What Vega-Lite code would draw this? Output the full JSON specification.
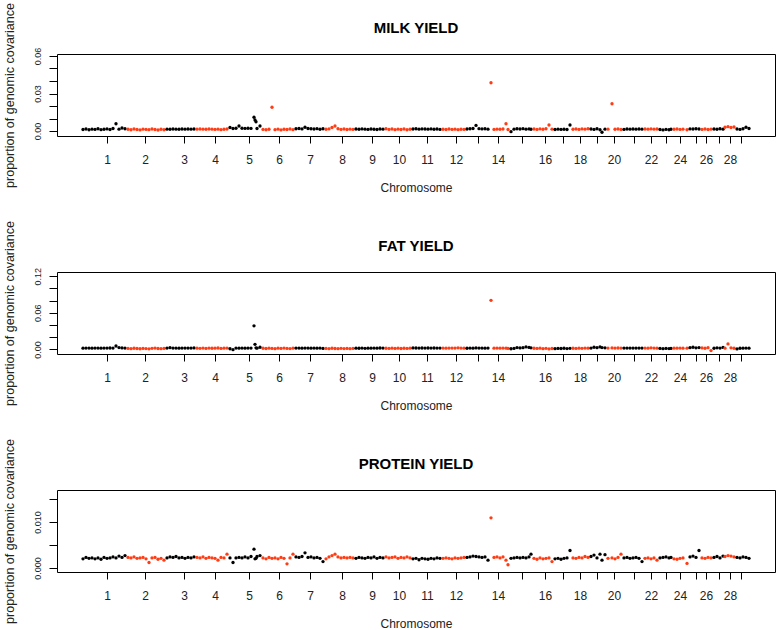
{
  "$schema": "https://vega.github.io/schema/vega-lite/v6.json",
  "padding": {"left": 2, "top": 2, "right": 0, "bottom": 0},
  "background": "white",
  "spacing": 26,
  "data": {"values": [
    {"x":26,"c":1,"m":0.0012,"f":0.0020,"p":0.0020},
    {"x":29,"c":1,"m":0.0016,"f":0.0022,"p":0.0023},
    {"x":32,"c":1,"m":0.0010,"f":0.0021,"p":0.0021},
    {"x":35,"c":1,"m":0.0015,"f":0.0020,"p":0.0022},
    {"x":38,"c":1,"m":0.0013,"f":0.0022,"p":0.0020},
    {"x":41,"c":1,"m":0.0018,"f":0.0021,"p":0.0022},
    {"x":44,"c":1,"m":0.0011,"f":0.0020,"p":0.0019},
    {"x":47,"c":1,"m":0.0014,"f":0.0022,"p":0.0023},
    {"x":50,"c":1,"m":0.0017,"f":0.0021,"p":0.0021},
    {"x":53,"c":1,"m":0.0012,"f":0.0023,"p":0.0022},
    {"x":56,"c":1,"m":0.0020,"f":0.0021,"p":0.0024},
    {"x":59,"c":1,"m":0.0058,"f":0.0055,"p":0.0022},
    {"x":62,"c":1,"m":0.0015,"f":0.0030,"p":0.0026},
    {"x":65,"c":1,"m":0.0024,"f":0.0024,"p":0.0023},
    {"x":68,"c":1,"m":0.0018,"f":0.0022,"p":0.0027},
    {"x":71,"c":2,"m":0.0014,"f":0.0015,"p":0.0023},
    {"x":74,"c":2,"m":0.0010,"f":0.0012,"p":0.0022},
    {"x":77,"c":2,"m":0.0016,"f":0.0018,"p":0.0024},
    {"x":80,"c":2,"m":0.0012,"f":0.0014,"p":0.0021},
    {"x":83,"c":2,"m":0.0009,"f":0.0010,"p":0.0022},
    {"x":86,"c":2,"m":0.0015,"f":0.0016,"p":0.0023},
    {"x":89,"c":2,"m":0.0013,"f":0.0013,"p":0.0020},
    {"x":92,"c":2,"m":0.0011,"f":0.0009,"p":0.0012},
    {"x":95,"c":2,"m":0.0016,"f":0.0017,"p":0.0022},
    {"x":98,"c":2,"m":0.0012,"f":0.0022,"p":0.0023},
    {"x":101,"c":2,"m":0.0008,"f":0.0014,"p":0.0019},
    {"x":104,"c":2,"m":0.0014,"f":0.0011,"p":0.0021},
    {"x":107,"c":2,"m":0.0010,"f":0.0016,"p":0.0017},
    {"x":110,"c":3,"m":0.0015,"f":0.0022,"p":0.0022},
    {"x":113,"c":3,"m":0.0014,"f":0.0028,"p":0.0024},
    {"x":116,"c":3,"m":0.0016,"f":0.0021,"p":0.0023},
    {"x":119,"c":3,"m":0.0015,"f":0.0022,"p":0.0025},
    {"x":122,"c":3,"m":0.0014,"f":0.0020,"p":0.0022},
    {"x":125,"c":3,"m":0.0016,"f":0.0022,"p":0.0023},
    {"x":128,"c":3,"m":0.0015,"f":0.0021,"p":0.0021},
    {"x":131,"c":3,"m":0.0016,"f":0.0022,"p":0.0023},
    {"x":134,"c":3,"m":0.0015,"f":0.0021,"p":0.0022},
    {"x":137,"c":3,"m":0.0016,"f":0.0024,"p":0.0024},
    {"x":140,"c":4,"m":0.0015,"f":0.0020,"p":0.0023},
    {"x":143,"c":4,"m":0.0016,"f":0.0017,"p":0.0022},
    {"x":146,"c":4,"m":0.0015,"f":0.0021,"p":0.0024},
    {"x":149,"c":4,"m":0.0014,"f":0.0016,"p":0.0021},
    {"x":152,"c":4,"m":0.0016,"f":0.0022,"p":0.0023},
    {"x":155,"c":4,"m":0.0015,"f":0.0018,"p":0.0022},
    {"x":158,"c":4,"m":0.0013,"f":0.0020,"p":0.0021},
    {"x":161,"c":4,"m":0.0015,"f":0.0023,"p":0.0017},
    {"x":164,"c":4,"m":0.0011,"f":0.0015,"p":0.0023},
    {"x":167,"c":4,"m":0.0014,"f":0.0019,"p":0.0022},
    {"x":170,"c":4,"m":0.0016,"f":0.0021,"p":0.0030},
    {"x":173,"c":5,"m":0.0028,"f":0.0010,"p":0.0022},
    {"x":176,"c":5,"m":0.0020,"f":-0.0005,"p":0.0012},
    {"x":179,"c":5,"m":0.0022,"f":0.0022,"p":0.0022},
    {"x":182,"c":5,"m":0.0040,"f":0.0020,"p":0.0023},
    {"x":185,"c":5,"m":0.0022,"f":0.0021,"p":0.0022},
    {"x":188,"c":5,"m":0.0021,"f":0.0020,"p":0.0024},
    {"x":191,"c":5,"m":0.0022,"f":0.0022,"p":0.0022},
    {"x":194,"c":5,"m":0.0021,"f":0.0021,"p":0.0025},
    {"x":197,"c":5,"m":0.0110,"f":0.0387,"p":0.0041},
    {"x":198,"c":5,"m":0.0088,"f":0.0083,"p":0.0020},
    {"x":199,"c":5,"m":0.0074,"f":0.0025,"p":0.0021},
    {"x":200,"c":5,"m":0.0020,"f":0.0020,"p":0.0025},
    {"x":203,"c":5,"m":0.0040,"f":0.0035,"p":0.0027},
    {"x":206,"c":6,"m":0.0013,"f":0.0018,"p":0.0022},
    {"x":209,"c":6,"m":0.0010,"f":0.0014,"p":0.0020},
    {"x":212,"c":6,"m":0.0014,"f":0.0020,"p":0.0023},
    {"x":215,"c":6,"m":0.0190,"f":0.0016,"p":0.0021},
    {"x":218,"c":6,"m":0.0011,"f":0.0012,"p":0.0022},
    {"x":221,"c":6,"m":0.0015,"f":0.0019,"p":0.0020},
    {"x":224,"c":6,"m":0.0009,"f":0.0015,"p":0.0023},
    {"x":227,"c":6,"m":0.0014,"f":0.0021,"p":0.0021},
    {"x":230,"c":6,"m":0.0012,"f":0.0016,"p":0.0009},
    {"x":233,"c":6,"m":0.0016,"f":0.0013,"p":0.0022},
    {"x":236,"c":6,"m":0.0011,"f":0.0019,"p":0.0030},
    {"x":239,"c":7,"m":0.0018,"f":0.0021,"p":0.0024},
    {"x":242,"c":7,"m":0.0020,"f":0.0022,"p":0.0023},
    {"x":245,"c":7,"m":0.0017,"f":0.0020,"p":0.0025},
    {"x":248,"c":7,"m":0.0030,"f":0.0022,"p":0.0033},
    {"x":251,"c":7,"m":0.0020,"f":0.0021,"p":0.0023},
    {"x":254,"c":7,"m":0.0018,"f":0.0020,"p":0.0024},
    {"x":257,"c":7,"m":0.0016,"f":0.0022,"p":0.0022},
    {"x":260,"c":7,"m":0.0019,"f":0.0019,"p":0.0023},
    {"x":263,"c":7,"m":0.0014,"f":0.0021,"p":0.0021},
    {"x":266,"c":7,"m":0.0018,"f":0.0016,"p":0.0014},
    {"x":269,"c":8,"m":0.0014,"f":0.0015,"p":0.0020},
    {"x":272,"c":8,"m":0.0017,"f":0.0012,"p":0.0024},
    {"x":275,"c":8,"m":0.0028,"f":0.0018,"p":0.0027},
    {"x":278,"c":8,"m":0.0040,"f":0.0014,"p":0.0030},
    {"x":281,"c":8,"m":0.0018,"f":0.0011,"p":0.0024},
    {"x":284,"c":8,"m":0.0013,"f":0.0017,"p":0.0022},
    {"x":287,"c":8,"m":0.0016,"f":0.0013,"p":0.0023},
    {"x":290,"c":8,"m":0.0012,"f":0.0016,"p":0.0022},
    {"x":293,"c":8,"m":0.0015,"f":0.0012,"p":0.0023},
    {"x":296,"c":8,"m":0.0013,"f":0.0015,"p":0.0022},
    {"x":299,"c":9,"m":0.0016,"f":0.0020,"p":0.0021},
    {"x":302,"c":9,"m":0.0014,"f":0.0018,"p":0.0023},
    {"x":305,"c":9,"m":0.0017,"f":0.0021,"p":0.0022},
    {"x":308,"c":9,"m":0.0015,"f":0.0017,"p":0.0021},
    {"x":311,"c":9,"m":0.0013,"f":0.0020,"p":0.0023},
    {"x":314,"c":9,"m":0.0016,"f":0.0019,"p":0.0022},
    {"x":317,"c":9,"m":0.0014,"f":0.0022,"p":0.0024},
    {"x":320,"c":9,"m":0.0012,"f":0.0020,"p":0.0021},
    {"x":323,"c":9,"m":0.0016,"f":0.0023,"p":0.0023},
    {"x":326,"c":9,"m":0.0015,"f":0.0021,"p":0.0022},
    {"x":329,"c":10,"m":0.0018,"f":0.0018,"p":0.0024},
    {"x":332,"c":10,"m":0.0013,"f":0.0015,"p":0.0022},
    {"x":335,"c":10,"m":0.0016,"f":0.0020,"p":0.0023},
    {"x":338,"c":10,"m":0.0011,"f":0.0016,"p":0.0024},
    {"x":341,"c":10,"m":0.0015,"f":0.0019,"p":0.0021},
    {"x":344,"c":10,"m":0.0012,"f":0.0014,"p":0.0023},
    {"x":347,"c":10,"m":0.0016,"f":0.0018,"p":0.0022},
    {"x":350,"c":10,"m":0.0010,"f":0.0015,"p":0.0024},
    {"x":353,"c":10,"m":0.0014,"f":0.0019,"p":0.0022},
    {"x":356,"c":11,"m":0.0016,"f":0.0024,"p":0.0020},
    {"x":359,"c":11,"m":0.0018,"f":0.0023,"p":0.0021},
    {"x":362,"c":11,"m":0.0015,"f":0.0022,"p":0.0018},
    {"x":365,"c":11,"m":0.0017,"f":0.0023,"p":0.0021},
    {"x":368,"c":11,"m":0.0016,"f":0.0022,"p":0.0020},
    {"x":371,"c":11,"m":0.0015,"f":0.0023,"p":0.0019},
    {"x":374,"c":11,"m":0.0017,"f":0.0022,"p":0.0021},
    {"x":377,"c":11,"m":0.0014,"f":0.0023,"p":0.0020},
    {"x":380,"c":11,"m":0.0016,"f":0.0022,"p":0.0022},
    {"x":383,"c":11,"m":0.0013,"f":0.0022,"p":0.0021},
    {"x":386,"c":12,"m":0.0014,"f":0.0021,"p":0.0021},
    {"x":389,"c":12,"m":0.0012,"f":0.0020,"p":0.0022},
    {"x":392,"c":12,"m":0.0016,"f":0.0021,"p":0.0021},
    {"x":395,"c":12,"m":0.0013,"f":0.0022,"p":0.0020},
    {"x":398,"c":12,"m":0.0015,"f":0.0021,"p":0.0022},
    {"x":401,"c":12,"m":0.0011,"f":0.0025,"p":0.0021},
    {"x":404,"c":12,"m":0.0014,"f":0.0021,"p":0.0022},
    {"x":407,"c":12,"m":0.0013,"f":0.0020,"p":0.0023},
    {"x":410,"c":13,"m":0.0016,"f":0.0018,"p":0.0023},
    {"x":413,"c":13,"m":0.0018,"f":0.0022,"p":0.0024},
    {"x":416,"c":13,"m":0.0020,"f":0.0020,"p":0.0026},
    {"x":419,"c":13,"m":0.0045,"f":0.0024,"p":0.0025},
    {"x":422,"c":13,"m":0.0019,"f":0.0021,"p":0.0024},
    {"x":425,"c":13,"m":0.0017,"f":0.0022,"p":0.0023},
    {"x":428,"c":13,"m":0.0018,"f":0.0020,"p":0.0024},
    {"x":431,"c":13,"m":0.0015,"f":0.0021,"p":0.0017},
    {"x":434,"c":14,"m":0.0386,"f":0.0805,"p":0.0109},
    {"x":437,"c":14,"m":0.0013,"f":0.0020,"p":0.0023},
    {"x":440,"c":14,"m":0.0015,"f":0.0021,"p":0.0024},
    {"x":443,"c":14,"m":0.0014,"f":0.0019,"p":0.0022},
    {"x":446,"c":14,"m":0.0016,"f":0.0021,"p":0.0024},
    {"x":449,"c":14,"m":0.0058,"f":0.0020,"p":0.0017},
    {"x":451,"c":14,"m":0.0012,"f":0.0015,"p":0.0007},
    {"x":454,"c":15,"m":-0.0005,"f":0.0010,"p":0.0021},
    {"x":457,"c":15,"m":0.0015,"f":0.0016,"p":0.0022},
    {"x":460,"c":15,"m":0.0018,"f":0.0030,"p":0.0023},
    {"x":463,"c":15,"m":0.0016,"f":0.0024,"p":0.0022},
    {"x":466,"c":15,"m":0.0019,"f":0.0028,"p":0.0023},
    {"x":469,"c":15,"m":0.0015,"f":0.0040,"p":0.0022},
    {"x":472,"c":15,"m":0.0017,"f":0.0032,"p":0.0024},
    {"x":474,"c":15,"m":0.0014,"f":0.0026,"p":0.0030},
    {"x":477,"c":16,"m":0.0016,"f":0.0018,"p":0.0021},
    {"x":480,"c":16,"m":0.0013,"f":0.0015,"p":0.0019},
    {"x":483,"c":16,"m":0.0017,"f":0.0019,"p":0.0022},
    {"x":486,"c":16,"m":0.0014,"f":0.0012,"p":0.0020},
    {"x":489,"c":16,"m":0.0018,"f":0.0017,"p":0.0021},
    {"x":492,"c":16,"m":0.0048,"f":0.0008,"p":0.0022},
    {"x":495,"c":16,"m":0.0015,"f":0.0014,"p":0.0014},
    {"x":498,"c":17,"m":0.0012,"f":0.0012,"p":0.0020},
    {"x":501,"c":17,"m":0.0015,"f":0.0016,"p":0.0021},
    {"x":504,"c":17,"m":0.0013,"f":0.0014,"p":0.0019},
    {"x":507,"c":17,"m":0.0014,"f":0.0018,"p":0.0021},
    {"x":510,"c":17,"m":0.0012,"f":0.0013,"p":0.0022},
    {"x":513,"c":17,"m":0.0048,"f":0.0017,"p":0.0038},
    {"x":516,"c":18,"m":0.0014,"f":0.0018,"p":0.0022},
    {"x":519,"c":18,"m":0.0016,"f":0.0016,"p":0.0021},
    {"x":522,"c":18,"m":0.0013,"f":0.0020,"p":0.0023},
    {"x":525,"c":18,"m":0.0017,"f":0.0017,"p":0.0022},
    {"x":528,"c":18,"m":0.0015,"f":0.0021,"p":0.0025},
    {"x":531,"c":18,"m":0.0018,"f":0.0019,"p":0.0023},
    {"x":534,"c":19,"m":0.0016,"f":0.0022,"p":0.0025},
    {"x":537,"c":19,"m":0.0013,"f":0.0035,"p":0.0028},
    {"x":540,"c":19,"m":0.0018,"f":0.0028,"p":0.0022},
    {"x":543,"c":19,"m":0.0010,"f":0.0040,"p":0.0030},
    {"x":545,"c":19,"m":-0.0010,"f":0.0030,"p":0.0017},
    {"x":548,"c":19,"m":0.0015,"f":0.0026,"p":0.0029},
    {"x":551,"c":20,"m":0.0015,"f":0.0022,"p":0.0021},
    {"x":555,"c":20,"m":0.0218,"f":0.0024,"p":0.0022},
    {"x":558,"c":20,"m":0.0014,"f":0.0021,"p":0.0020},
    {"x":561,"c":20,"m":0.0016,"f":0.0023,"p":0.0023},
    {"x":564,"c":20,"m":0.0012,"f":0.0022,"p":0.0030},
    {"x":567,"c":21,"m":0.0013,"f":0.0021,"p":0.0022},
    {"x":570,"c":21,"m":0.0016,"f":0.0022,"p":0.0023},
    {"x":573,"c":21,"m":0.0015,"f":0.0021,"p":0.0021},
    {"x":576,"c":21,"m":0.0016,"f":0.0022,"p":0.0022},
    {"x":579,"c":21,"m":0.0015,"f":0.0021,"p":0.0023},
    {"x":582,"c":21,"m":0.0016,"f":0.0022,"p":0.0021},
    {"x":585,"c":21,"m":0.0015,"f":0.0021,"p":0.0014},
    {"x":588,"c":22,"m":0.0016,"f":0.0021,"p":0.0021},
    {"x":591,"c":22,"m":0.0015,"f":0.0020,"p":0.0022},
    {"x":594,"c":22,"m":0.0017,"f":0.0025,"p":0.0020},
    {"x":597,"c":22,"m":0.0015,"f":0.0021,"p":0.0022},
    {"x":600,"c":22,"m":0.0016,"f":0.0020,"p":0.0017},
    {"x":603,"c":23,"m":0.0012,"f":0.0015,"p":0.0022},
    {"x":606,"c":23,"m":0.0009,"f":0.0012,"p":0.0023},
    {"x":609,"c":23,"m":0.0013,"f":0.0016,"p":0.0024},
    {"x":612,"c":23,"m":0.0010,"f":0.0013,"p":0.0022},
    {"x":614,"c":23,"m":0.0014,"f":0.0015,"p":0.0023},
    {"x":617,"c":24,"m":0.0014,"f":0.0020,"p":0.0020},
    {"x":620,"c":24,"m":0.0016,"f":0.0019,"p":0.0019},
    {"x":623,"c":24,"m":0.0013,"f":0.0021,"p":0.0021},
    {"x":626,"c":24,"m":0.0015,"f":0.0020,"p":0.0022},
    {"x":630,"c":24,"m":0.0010,"f":0.0019,"p":0.0010},
    {"x":633,"c":25,"m":0.0017,"f":0.0028,"p":0.0024},
    {"x":636,"c":25,"m":0.0016,"f":0.0035,"p":0.0026},
    {"x":639,"c":25,"m":0.0018,"f":0.0026,"p":0.0023},
    {"x":642,"c":25,"m":0.0016,"f":0.0030,"p":0.0038},
    {"x":645,"c":26,"m":0.0013,"f":0.0024,"p":0.0022},
    {"x":648,"c":26,"m":0.0016,"f":0.0018,"p":0.0021},
    {"x":651,"c":26,"m":0.0012,"f":0.0028,"p":0.0023},
    {"x":654,"c":26,"m":0.0015,"f":-0.0020,"p":0.0022},
    {"x":657,"c":27,"m":0.0016,"f":0.0018,"p":0.0023},
    {"x":660,"c":27,"m":0.0014,"f":0.0026,"p":0.0025},
    {"x":663,"c":27,"m":0.0018,"f":0.0022,"p":0.0022},
    {"x":666,"c":27,"m":0.0015,"f":0.0032,"p":0.0026},
    {"x":668,"c":28,"m":0.0030,"f":0.0020,"p":0.0025},
    {"x":671,"c":28,"m":0.0035,"f":0.0090,"p":0.0027},
    {"x":674,"c":28,"m":0.0028,"f":0.0025,"p":0.0026},
    {"x":677,"c":28,"m":0.0032,"f":0.0018,"p":0.0024},
    {"x":680,"c":29,"m":0.0016,"f":0.0008,"p":0.0023},
    {"x":683,"c":29,"m":0.0013,"f":0.0018,"p":0.0022},
    {"x":686,"c":29,"m":0.0018,"f":0.0020,"p":0.0024},
    {"x":689,"c":29,"m":0.0030,"f":0.0021,"p":0.0023},
    {"x":692,"c":29,"m":0.0020,"f":0.0020,"p":0.0021}
  ]},
  "vconcat": [
    {
      "title": "MILK YIELD",
      "width": 718, "height": 82,
      "mark": {"type": "point", "filled": true, "size": 11, "opacity": 1, "shape": "circle"},
      "encoding": {
        "x": {"field": "x", "type": "quantitative", "scale": {"domain": [0, 718], "nice": false, "zero": false},
              "axis": {"title": "Chromosome", "values": [50,88,127,158,192,222,253,285,315,342,370,399,421,441,465,488,506,523,540,557,577,594,609,623,639,649,662,673,684],
                       "labelExpr": "['1','2','3','4','5','6','7','8','9','10','11','12','','14','','16','','18','','20','','22','','24','','26','','28',''][indexof([50,88,127,158,192,222,253,285,315,342,370,399,421,441,465,488,506,523,540,557,577,594,609,623,639,649,662,673,684], datum.value)]"}},
        "y": {"field": "m", "type": "quantitative", "scale": {"domain": [-0.004, 0.0616], "nice": false, "zero": false},
              "axis": {"title": "proportion of genomic covariance", "values": [0,0.01,0.02,0.03,0.04,0.05,0.06],
                       "labelExpr": "round(datum.value*1000) % 30 == 0 ? format(datum.value, '.2f') : ''"}},
        "color": {"condition": {"test": "datum.c % 2 == 0", "value": "#FF3C14"}, "value": "#000000"}
      }
    },
    {
      "title": "FAT YIELD",
      "width": 718, "height": 82,
      "mark": {"type": "point", "filled": true, "size": 11, "opacity": 1, "shape": "circle"},
      "encoding": {
        "x": {"field": "x", "type": "quantitative", "scale": {"domain": [0, 718], "nice": false, "zero": false},
              "axis": {"title": "Chromosome", "values": [50,88,127,158,192,222,253,285,315,342,370,399,421,441,465,488,506,523,540,557,577,594,609,623,639,649,662,673,684],
                       "labelExpr": "['1','2','3','4','5','6','7','8','9','10','11','12','','14','','16','','18','','20','','22','','24','','26','','28',''][indexof([50,88,127,158,192,222,253,285,315,342,370,399,421,441,465,488,506,523,540,557,577,594,609,623,639,649,662,673,684], datum.value)]"}},
        "y": {"field": "f", "type": "quantitative", "scale": {"domain": [-0.0076, 0.1271], "nice": false, "zero": false},
              "axis": {"title": "proportion of genomic covariance", "values": [0,0.02,0.04,0.06,0.08,0.1,0.12],
                       "labelExpr": "round(datum.value*1000) % 60 == 0 ? format(datum.value, '.2f') : ''"}},
        "color": {"condition": {"test": "datum.c % 2 == 0", "value": "#FF3C14"}, "value": "#000000"}
      }
    },
    {
      "title": "PROTEIN YIELD",
      "width": 718, "height": 82,
      "mark": {"type": "point", "filled": true, "size": 11, "opacity": 1, "shape": "circle"},
      "encoding": {
        "x": {"field": "x", "type": "quantitative", "scale": {"domain": [0, 718], "nice": false, "zero": false},
              "axis": {"title": "Chromosome", "values": [50,88,127,158,192,222,253,285,315,342,370,399,421,441,465,488,506,523,540,557,577,594,609,623,639,649,662,673,684],
                       "labelExpr": "['1','2','3','4','5','6','7','8','9','10','11','12','','14','','16','','18','','20','','22','','24','','26','','28',''][indexof([50,88,127,158,192,222,253,285,315,342,370,399,421,441,465,488,506,523,540,557,577,594,609,623,639,649,662,673,684], datum.value)]"}},
        "y": {"field": "p", "type": "quantitative", "scale": {"domain": [-0.00087, 0.01696], "nice": false, "zero": false},
              "axis": {"title": "proportion of genomic covariance", "values": [0,0.005,0.01,0.015],
                       "labelExpr": "round(datum.value*10000) % 100 == 0 ? format(datum.value, '.3f') : ''"}},
        "color": {"condition": {"test": "datum.c % 2 == 0", "value": "#FF3C14"}, "value": "#000000"}
      }
    }
  ],
  "config": {
    "view": {"stroke": "#000000", "strokeWidth": 1},
    "font": "Liberation Sans",
    "title": {"font": "Liberation Sans", "fontSize": 15, "fontWeight": "bold", "color": "#000000", "anchor": "middle", "offset": -33, "baseline": "alphabetic"},
    "axis": {"domain": false, "grid": false, "ticks": true, "tickColor": "#000000",
             "labelFont": "Liberation Sans", "labelFontSize": 12, "labelColor": "#222222",
             "titleFont": "Liberation Sans", "titleFontSize": 12, "titleFontWeight": "normal", "titleColor": "#222222",
             "labelOverlap": false, "labelBound": false, "labelFlush": false},
    "axisX": {"labelAngle": 0, "tickSize": 7, "labelPadding": 11, "titlePadding": 17},
    "axisY": {"labelAngle": -90, "labelAlign": "center", "labelBaseline": "bottom", "labelFontSize": 9, "labelPadding": 7, "titlePadding": 17, "tickSize": 8, "titleFontSize": 12.5}
  }
}
